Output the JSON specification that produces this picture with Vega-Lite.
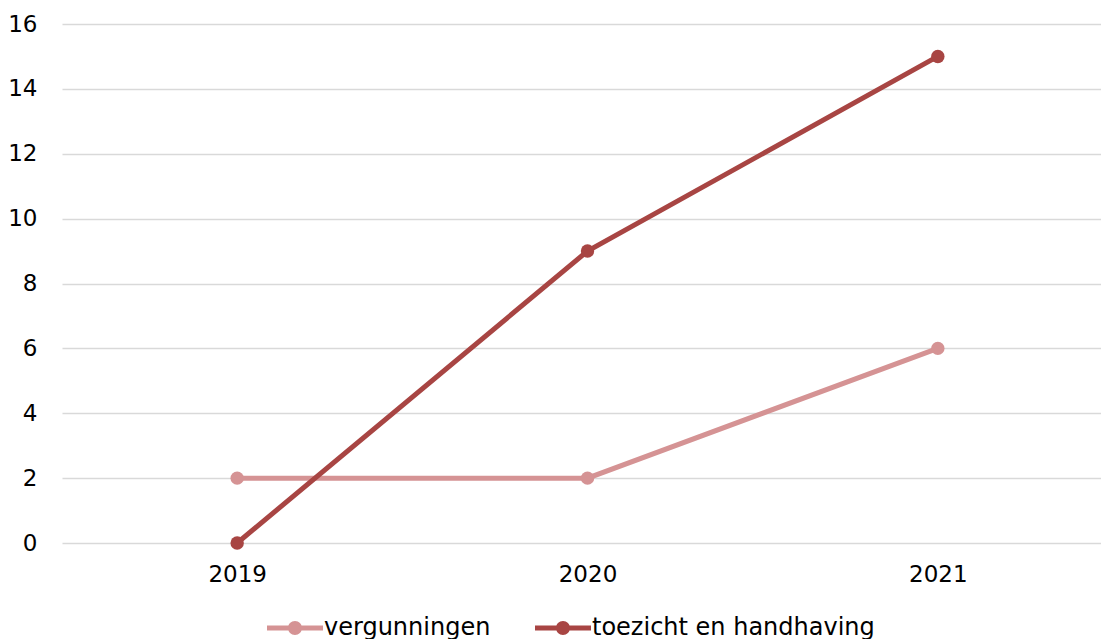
{
  "$schema": "https://vega.github.io/schema/vega-lite/v6.json",
  "autosize": {"type": "none"},
  "padding": {"left": 62, "top": 24, "right": 0, "bottom": 96},
  "width": 1051,
  "height": 519,
  "background": "white",
  "config": {
    "view": {"stroke": null},
    "font": "DejaVu Sans",
    "axis": {"labelFont": "DejaVu Sans", "labelFontSize": 23, "labelColor": "#000000", "domain": false, "ticks": false, "title": null},
    "legend": {"labelFont": "DejaVu Sans", "labelFontSize": 24, "labelColor": "#000000", "labelLimit": 0}
  },
  "data": {
    "values": [
      {"jaar": "2019", "serie": "vergunningen", "waarde": 2},
      {"jaar": "2020", "serie": "vergunningen", "waarde": 2},
      {"jaar": "2021", "serie": "vergunningen", "waarde": 6},
      {"jaar": "2019", "serie": "toezicht en handhaving", "waarde": 0},
      {"jaar": "2020", "serie": "toezicht en handhaving", "waarde": 9},
      {"jaar": "2021", "serie": "toezicht en handhaving", "waarde": 15}
    ]
  },
  "encoding": {
    "x": {"field": "jaar", "type": "ordinal", "scale": {"type": "point", "padding": 0.5},
      "axis": {"labelAngle": 0, "labelPadding": 20, "grid": false}},
    "y": {"field": "waarde", "type": "quantitative", "scale": {"domain": [0, 16]},
      "axis": {"values": [0, 2, 4, 6, 8, 10, 12, 14, 16], "labelPadding": 25, "grid": true, "gridColor": "#D9D9D9", "gridWidth": 1.5}},
    "color": {"field": "serie", "type": "nominal",
      "scale": {"domain": ["vergunningen", "toezicht en handhaving"], "range": ["#D59394", "#A84543"]},
      "legend": {"title": null, "orient": "none", "legendX": 205, "legendY": 576, "direction": "horizontal",
        "symbolType": "M-1,-0.09 H1 V0.09 H-1 Z M0.25,0 A0.25,0.25 0 1,1 -0.25,0 A0.25,0.25 0 1,1 0.25,0 Z",
        "symbolSize": 3136, "symbolStrokeWidth": 0, "labelOffset": 1, "columnPadding": 44, "labelLimit": 0,
        "encode": {"symbols": {"update": {
          "shape": {"value": "M-1,-0.09 H1 V0.09 H-1 Z M0.25,0 A0.25,0.25 0 1,1 -0.25,0 A0.25,0.25 0 1,1 0.25,0 Z"},
          "size": {"value": 3136}, "strokeWidth": {"value": 0}, "opacity": {"value": 1}}}}}}
  },
  "layer": [
    {"mark": {"type": "line", "strokeWidth": 5}},
    {"mark": {"type": "point", "filled": true, "opacity": 1, "size": 180}}
  ]
}
